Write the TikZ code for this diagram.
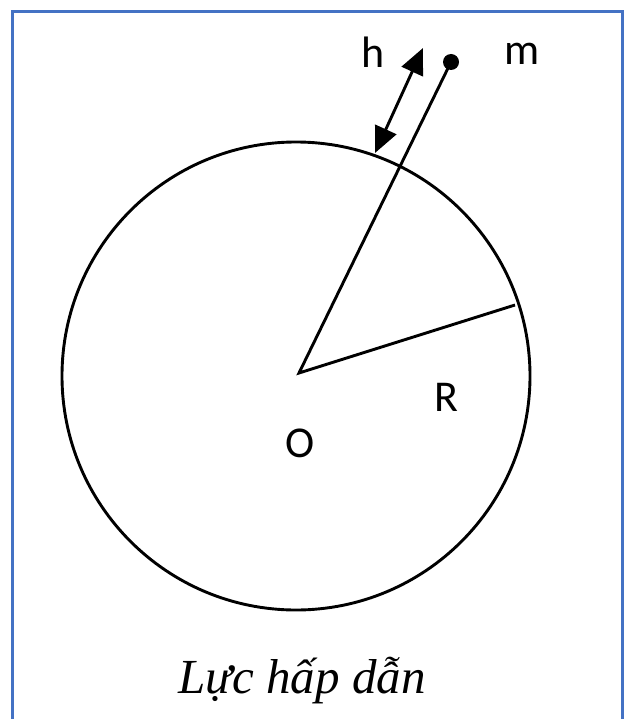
\documentclass[tikz,border=0pt]{standalone}
\usepackage{fontspec}
\setmainfont{Liberation Serif}
\newfontfamily\lblfont{Carlito}
\usetikzlibrary{arrows.meta}
\definecolor{frameblue}{HTML}{4472C4}
\begin{document}
\begin{tikzpicture}[x=1pt,y=-1pt,
  lbl/.style={font=\lblfont\fontsize{44}{48}\selectfont, anchor=base, inner sep=0pt},
  captext/.style={font=\itshape\fontsize{49}{54}\selectfont, anchor=base, inner sep=0pt},
  thickline/.style={line width=2.9pt, black}]
\useasboundingbox (0,0) rectangle (628,719);
\fill[white] (0,0) rectangle (628,719);
% frame (open at the bottom)
\draw[frameblue, line width=3pt] (12.5,725) -- (12.5,11.5) -- (622.5,11.5) -- (622.5,725);
% earth
\coordinate (C) at (296,376);
\draw[thickline] (C) circle (234);
\coordinate (O) at (299,373);
\coordinate (P) at (515,305);
\node[circle, fill=black, inner sep=0pt, minimum size=16pt] (m) at (451,62) {};
\draw[thickline, line join=miter] (P) -- (O) -- (m.center);
% height arrow
\coordinate (hs) at (375,153);
\coordinate (he) at (423,48);
\draw[thickline, {Triangle[length=26pt,width=23pt]}-{Triangle[length=26pt,width=23pt]}] (hs) -- (he);
% labels
\node[lbl] (hl) at (373,68) {h};
\node[lbl] (ml) at (522,65) {m};
\node[lbl] (Rl) at (446,411) {R};
\node[lbl] (Ol) at (300,457) {O};
\node[captext] (caption) at (302,693) {Lực hấp dẫn};
\end{tikzpicture}
\end{document}
